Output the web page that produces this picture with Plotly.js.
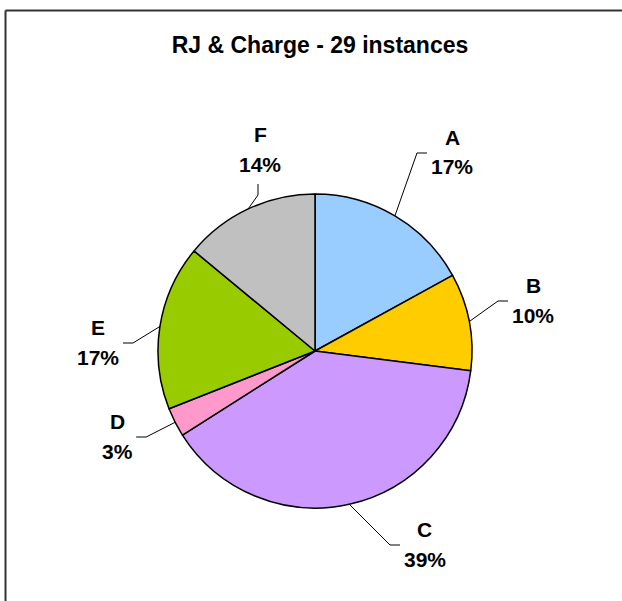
<!DOCTYPE html>
<html>
<head>
<meta charset="utf-8">
<script src="https://cdn.plot.ly/plotly-3.0.1.min.js"></script>
<style>
  html, body { margin: 0; padding: 0; background: #fff; }
  #chart { width: 622px; height: 601px; }
</style>
</head>
<body>
<div id="chart"></div>
<script>
// ---- data ----
const categories = ['A', 'B', 'C', 'D', 'E', 'F'];
const shares = [17, 10, 39, 3, 17, 14];          // percent of 29 instances
const sliceColors = ['#99CCFF', '#FFCC00', '#CC99FF', '#FF99CC', '#99CC00', '#C0C0C0'];
const chartTitle = 'RJ & Charge - 29 instances';

// ---- layout helpers (pixel geometry) ----
const W = 622, H = 601;
const CX = 315, CY = 351, R = 157;
const labelPos = [[452, 152], [533, 300], [425, 544], [117, 436], [98, 342], [260, 149]];
const leaderSide = ['r', 'r', 'r', 'l', 'l', 't'];
const LABEL_FS = 21;
const FONT = 'Liberation Sans, Arial, sans-serif';

const px = x => x / W;
const py = y => 1 - y / H;

const total = shares.reduce((a, b) => a + b, 0);
const pctText = shares.map(v => Math.round(v / total * 100) + '%');

// mid-angles (degrees clockwise from 12 o'clock)
const mids = [];
let acc = 0;
shares.forEach(v => { mids.push((acc + v / 2) / total * 360); acc += v; });

const annotations = [];
const shapes = [];

// frame (top and left edges)
shapes.push({type: 'line', xref: 'paper', yref: 'paper', x0: px(5.5), y0: py(10.5), x1: px(W + 5), y1: py(10.5),
             line: {color: '#333', width: 2}});
shapes.push({type: 'line', xref: 'paper', yref: 'paper', x0: px(5.5), y0: py(10.5), x1: px(5.5), y1: py(H + 5),
             line: {color: '#333', width: 2}});

categories.forEach((c, i) => {
  const [lx, ly] = labelPos[i];
  annotations.push({xref: 'paper', yref: 'paper', x: px(lx), y: py(ly - 15), text: '<b>' + c + '</b>',
    showarrow: false, xanchor: 'center', yanchor: 'middle', font: {family: FONT, size: LABEL_FS, color: '#000'}});
  annotations.push({xref: 'paper', yref: 'paper', x: px(lx), y: py(ly + 15), text: '<b>' + pctText[i] + '</b>',
    showarrow: false, xanchor: 'center', yanchor: 'middle', font: {family: FONT, size: LABEL_FS, color: '#000'}});

  const a = mids[i] * Math.PI / 180;
  const ex = CX + R * Math.sin(a), ey = CY - R * Math.cos(a);
  const digits = pctText[i].length - 1;
  const hw = (0.556 * digits + 0.889) * LABEL_FS / 2;
  let elbow, end;
  if (leaderSide[i] === 'r') {
    end = [lx - hw - 4, ly + 1]; elbow = [end[0] - 10, ly + 1];
  } else if (leaderSide[i] === 'l') {
    end = [lx + hw + 4, ly + 1]; elbow = [end[0] + 10, ly + 1];
  } else {
    end = [lx - 2, ly + 35]; elbow = [lx - 2, ly + 46];
  }
  const path = 'M ' + px(ex) + ' ' + py(ey) + ' L ' + px(elbow[0]) + ' ' + py(elbow[1]) +
               ' L ' + px(end[0]) + ' ' + py(end[1]);
  shapes.push({type: 'path', xref: 'paper', yref: 'paper', path: path, line: {color: '#000', width: 1}});
});

const trace = {
  type: 'pie',
  labels: categories,
  values: shares,
  sort: false,
  direction: 'clockwise',
  rotation: 0,
  textinfo: 'none',
  hoverinfo: 'label+percent',
  marker: {colors: sliceColors, line: {color: '#000', width: 1.5}},
  domain: {x: [px(CX - R), px(CX + R)], y: [py(CY + R), py(CY - R)]},
  showlegend: false
};

const layout = {
  width: W, height: H,
  margin: {l: 0, r: 0, t: 0, b: 0},
  paper_bgcolor: '#fff',
  plot_bgcolor: '#fff',
  showlegend: false,
  title: {text: '<b>' + chartTitle + '</b>', x: px(320), xanchor: 'center', y: py(45), yanchor: 'middle',
          xref: 'paper', yref: 'container', font: {family: FONT, size: 23, color: '#000'}},
  annotations: annotations,
  shapes: shapes
};

Plotly.newPlot('chart', [trace], layout, {displayModeBar: false, staticPlot: true});
</script>
</body>
</html>
